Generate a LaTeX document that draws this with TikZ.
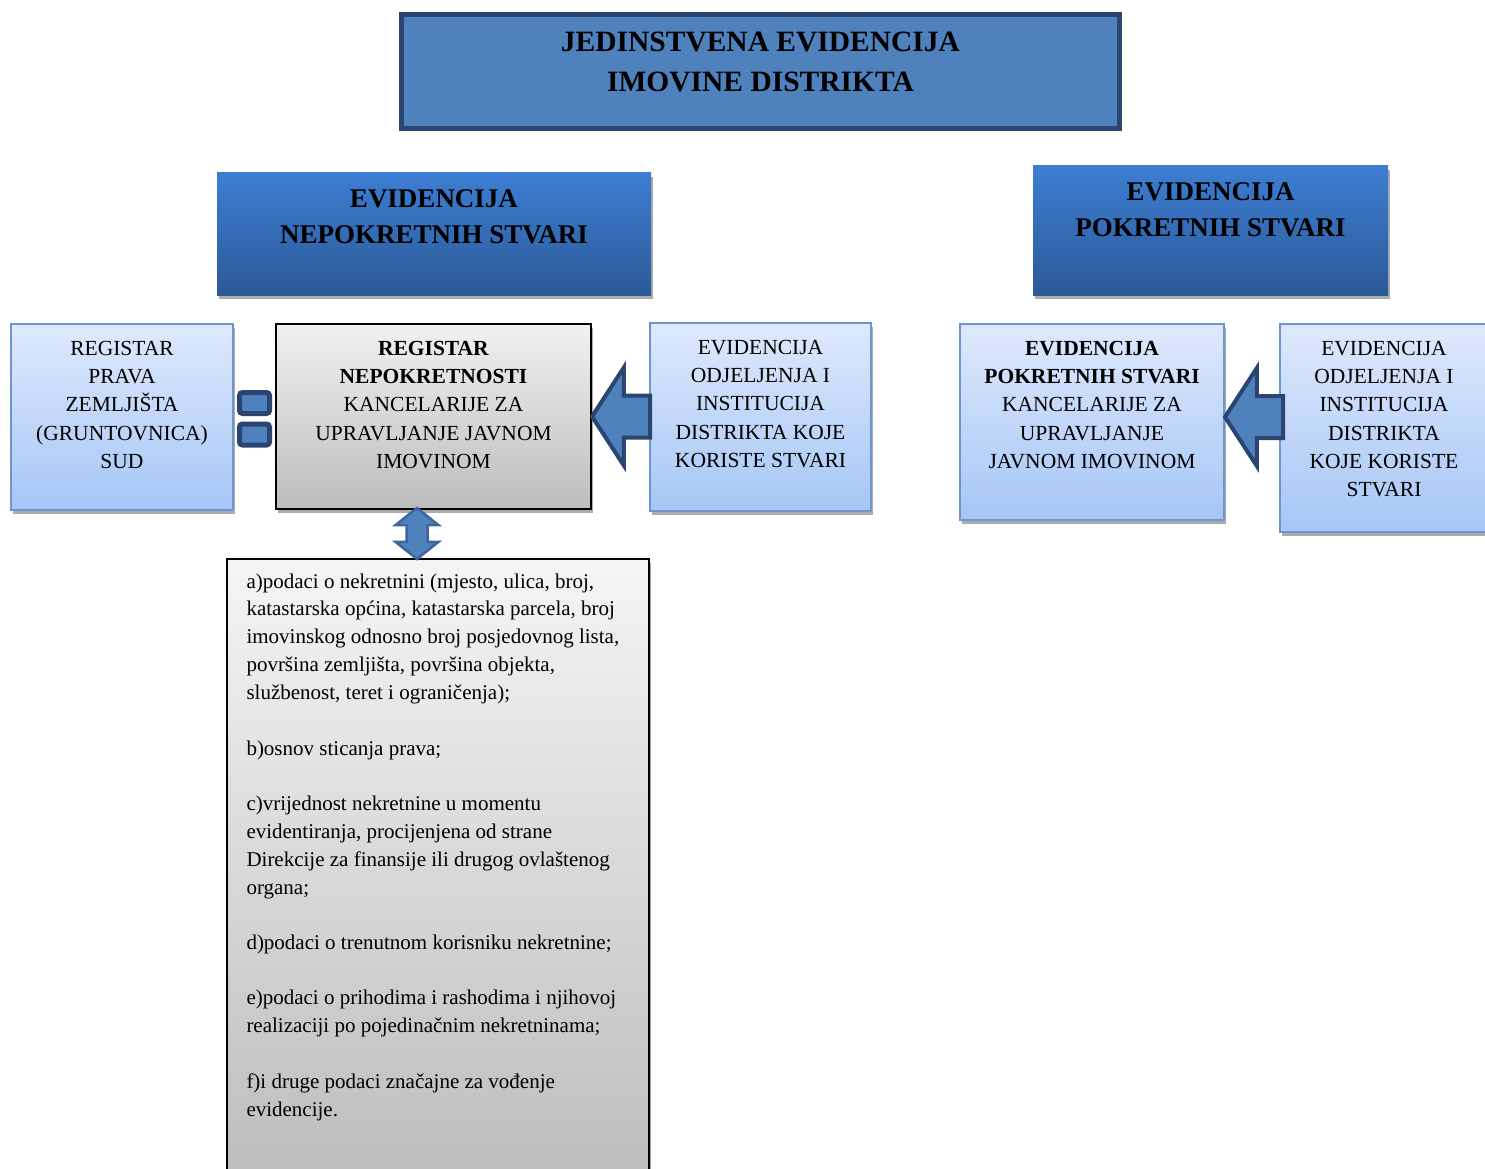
\documentclass[tikz,border=0pt]{standalone}
\usepackage{fontspec}
\setmainfont{Liberation Serif}
\usetikzlibrary{
  shapes.arrows,
  shadows
}
\definecolor{topblue}{HTML}{4F81BD}
\definecolor{darkblue}{HTML}{2A4570}
\definecolor{headtop}{HTML}{3D7DD2}
\definecolor{headbot}{HTML}{2C5A98}
\definecolor{lighttop}{HTML}{DEE9FC}
\definecolor{lightbot}{HTML}{A6C6F6}
\definecolor{lightline}{HTML}{6E96CE}
\definecolor{graytop}{HTML}{F1F1F1}
\definecolor{graybot}{HTML}{BDBDBD}
\definecolor{arrowline}{HTML}{3C679E}

\begin{document}
\begin{tikzpicture}[x=1pt,y=-1pt,
  every node/.style={inner sep=0pt,outer sep=0pt},
  boxshadow/.style={general shadow={fill=black!33,shadow xshift=1.5pt,shadow yshift=-4pt}},
  topbox/.style={draw=darkblue,line width=5pt,fill=topblue},
  headbox/.style={boxshadow,top color=headtop,bottom color=headbot},
  lightbox/.style={boxshadow,draw=lightline,line width=1.5pt,top color=lighttop,bottom color=lightbot},
  graybox/.style={boxshadow,draw=black,line width=1.5pt,top color=graytop,bottom color=graybot},
  txt/.style={anchor=north,yshift=-17pt,align=center,font=\fontsize{21.5}{28.3}\selectfont},
  headtxt/.style={txt,font=\fontsize{27}{36}\selectfont\bfseries},
  listtxt/.style={anchor=north west,align=left,font=\fontsize{21}{27.9}\selectfont},
  eqbox/.style={draw=darkblue,line width=5pt,fill=topblue,rounded corners=3pt,
    minimum width=30pt,minimum height=21pt},
  blockarrow/.style={single arrow,shape border rotate=180,draw=darkblue,line width=4pt,
    fill=topblue,inner xsep=0pt,inner ysep=19pt,minimum height=58pt,minimum width=94pt,
    single arrow head extend=28pt,single arrow tip angle=114,anchor=tip},
  dblarrow/.style={double arrow,shape border rotate=90,draw=arrowline,line width=2.5pt,
    fill=topblue,inner sep=9.25pt,minimum height=51pt,minimum width=40.5pt,
    double arrow head extend=11pt,double arrow tip angle=103},
]
\useasboundingbox (0,0) rectangle (1485,1169);

\node[topbox,minimum width=718pt,minimum height=114pt] (top) at (760.5,71.5) {};
\node[txt,font=\fontsize{29.5}{40}\selectfont\bfseries] (top-t) at (top.north)
  {JEDINSTVENA EVIDENCIJA\\IMOVINE DISTRIKTA};

\node[headbox,minimum width=434pt,minimum height=122pt] (nepok) at (434,234) {};
\node[headtxt] (nepok-t) at (nepok.north) {EVIDENCIJA\\NEPOKRETNIH STVARI};
\node[headbox,minimum width=355pt,minimum height=129pt] (pok) at (1210.5,230.5) {};
\node[headtxt] (pok-t) at (pok.north) {EVIDENCIJA\\POKRETNIH STVARI};

\node[lightbox,minimum width=222pt,minimum height=186pt] (regA) at (122,417) {};
\node[txt] (regA-t) at (regA.north) {REGISTAR\\PRAVA\\ZEMLJIŠTA\\(GRUNTOVNICA)\\SUD};

\node[graybox,minimum width=315pt,minimum height=185pt] (regB) at (433.5,416.5) {};
\node[txt] (regB-t) at (regB.north)
  {\textbf{REGISTAR}\\\textbf{NEPOKRETNOSTI}\\KANCELARIJE ZA\\UPRAVLJANJE JAVNOM\\IMOVINOM};

\node[lightbox,minimum width=221pt,minimum height=188pt] (evC) at (760.5,417) {};
\node[txt] (evC-t) at (evC.north)
  {EVIDENCIJA\\ODJELJENJA I\\INSTITUCIJA\\DISTRIKTA KOJE\\KORISTE STVARI};

\node[lightbox,minimum width=264pt,minimum height=196pt] (evD) at (1092,422) {};
\node[txt] (evD-t) at (evD.north)
  {\textbf{EVIDENCIJA}\\\textbf{POKRETNIH STVARI}\\KANCELARIJE ZA\\UPRAVLJANJE\\JAVNOM IMOVINOM};

\node[lightbox,minimum width=208pt,minimum height=208pt] (evE) at (1384,428) {};
\node[txt] (evE-t) at (evE.north)
  {EVIDENCIJA\\ODJELJENJA I\\INSTITUCIJA\\DISTRIKTA\\KOJE KORISTE\\STVARI};

\node[eqbox] (eq1) at (254.5,403) {};
\node[eqbox] (eq2) at (254.5,434.5) {};

\node[blockarrow] (arrC) at ([xshift=1pt]regB.east) {};
\node[blockarrow] (arrE) at ([xshift=1pt,yshift=5pt]evD.east) {};

\node[graybox,top color=white!96!black,minimum width=422pt,minimum height=615pt] (list) at (438,866.5) {};
\node[listtxt] (list-t) at ([xshift=19.5pt,yshift=-14.5pt]list.north west)
  {a)podaci o nekretnini (mjesto, ulica, broj,\\
   katastarska općina, katastarska parcela, broj\\
   imovinskog odnosno broj posjedovnog lista,\\
   površina zemljišta, površina objekta,\\
   službenost, teret i ograničenja);\\[27.5pt]
   b)osnov sticanja prava;\\[27.5pt]
   c)vrijednost nekretnine u momentu\\
   evidentiranja, procijenjena od strane\\
   Direkcije za finansije ili drugog ovlaštenog\\
   organa;\\[27.5pt]
   d)podaci o trenutnom korisniku nekretnine;\\[27.5pt]
   e)podaci o prihodima i rashodima i njihovoj\\
   realizaciji po pojedinačnim nekretninama;\\[27.5pt]
   f)i druge podaci značajne za vođenje\\
   evidencije.};

\node[dblarrow] (dbl) at (417,533.5) {};
\end{tikzpicture}
\end{document}
